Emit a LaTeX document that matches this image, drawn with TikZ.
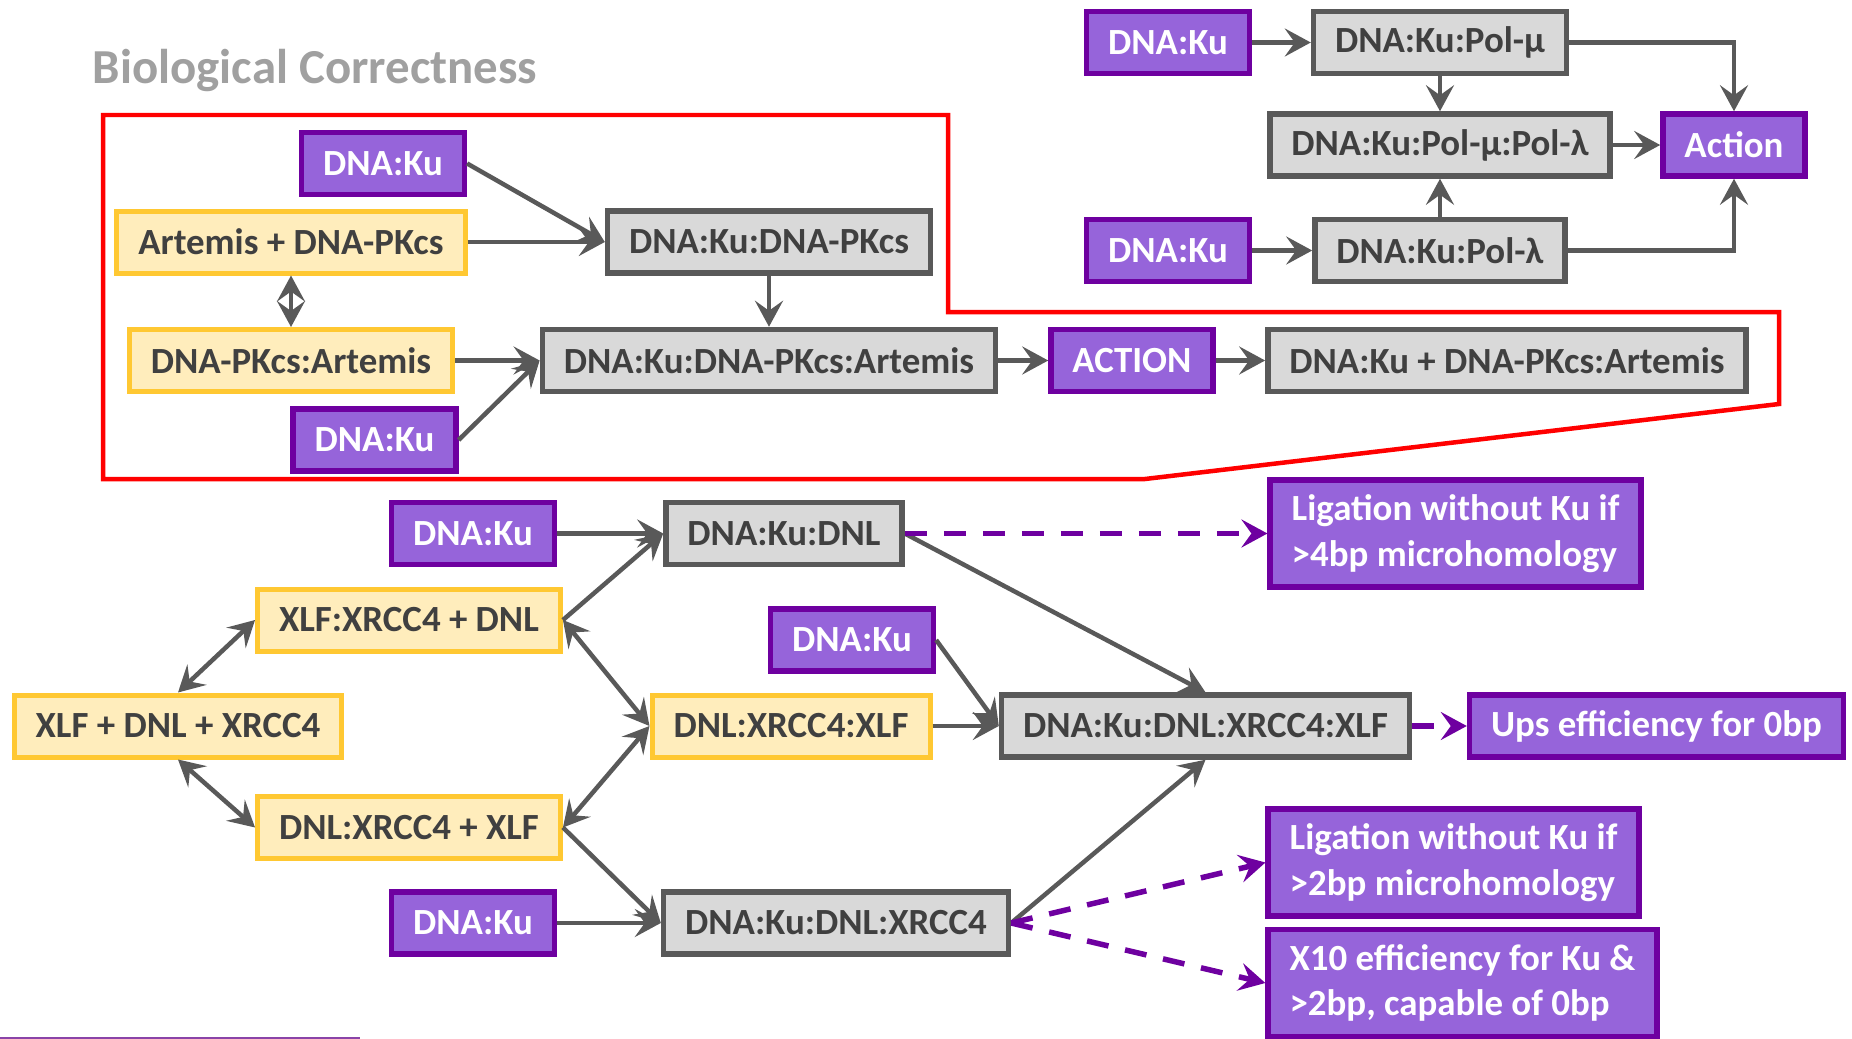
\documentclass[tikz,border=0pt]{standalone}
\usepackage{fontspec}
\setmainfont{Carlito}
\usepackage{tikz}
\usetikzlibrary{arrows.meta}

\definecolor{kufill}{HTML}{9664DA}
\definecolor{kuline}{HTML}{6E00A0}
\definecolor{yelfill}{HTML}{FFEDBC}
\definecolor{yelline}{HTML}{FFC832}
\definecolor{cplxfill}{HTML}{D9D9D9}
\definecolor{cplxline}{HTML}{595959}
\definecolor{txtgrey}{HTML}{404040}
\definecolor{titlegrey}{HTML}{A0A0A0}
\definecolor{footline}{HTML}{8A44A8}

\begin{document}
\begin{tikzpicture}[auto, >={Stealth[length=0.26cm,width=0.28cm,inset=0.1cm]}, font=\fontsize{10.5}{13}\selectfont\bfseries]
\tikzstyle{block} = [draw, rectangle, line width=0.055cm, minimum height=0.62cm, inner xsep=0.215cm, inner ysep=0cm]
\tikzstyle{kublock} = [block, draw=kuline, fill=kufill, text=white]
\tikzstyle{cplxblock} = [block, draw=cplxline, fill=cplxfill, text=txtgrey]
\tikzstyle{freeblock} = [block, draw=yelline, fill=yelfill, text=txtgrey, line width=0.05cm]
\tikzstyle{noteblock} = [kublock, align=left, minimum height=1.07cm]
\tikzstyle{link} = [->, draw=cplxline, line width=0.045cm]
\tikzstyle{duallink} = [<->, draw=cplxline, line width=0.045cm]
\tikzstyle{dashlink} = [->, draw=kuline, line width=0.055cm, dash pattern=on 0.22cm off 0.17cm]

\useasboundingbox (0,0) rectangle (18.52,-10.39);

\node[anchor=base west, inner sep=0, text=titlegrey, font=\fontsize{13.9}{16}\selectfont\bfseries] (title) at (0.92,-0.83) {Biological Correctness};

% Pol-mu / Pol-lambda branch
\node [kublock] (kuA) at (11.68,-0.425) {DNA:Ku};
\node [cplxblock, right of=kuA, node distance=2.72cm] (polmu) {DNA:Ku:Pol-μ};
\node [cplxblock, below of=polmu, node distance=1.025cm] (mulam) {DNA:Ku:Pol-μ:Pol-λ};
\node [kublock, right of=mulam, node distance=2.94cm] (action) {Action};
\node [cplxblock, below of=mulam, node distance=1.055cm] (pollam) {DNA:Ku:Pol-λ};
\node [kublock, left of=pollam, node distance=2.72cm] (kuB) {DNA:Ku};

\draw [link] (kuA) -- (polmu);
\draw [link] (kuB) -- (pollam);
\draw [link] (polmu) -- (mulam);
\draw [link] (pollam) -- (mulam);
\draw [link] (mulam) -- (action);
\draw [link] (polmu) -| (action);
\draw [link] (pollam) -| (action);

% Artemis branch (the red frame)
\node [cplxblock] (kupk) at (7.69,-2.42) {DNA:Ku:DNA-PKcs};
\node [kublock] (kuC) at (3.83,-1.635) {DNA:Ku};
\node [freeblock, left of=kupk, node distance=4.78cm] (artpk) {Artemis + DNA-PKcs};
\node [freeblock, below of=artpk, node distance=1.185cm] (pkart) {DNA-PKcs:Artemis};
\node [cplxblock, below of=kupk, node distance=1.185cm] (kupkart) {DNA:Ku:DNA-PKcs:Artemis};
\node [kublock] (kuD) at (3.745,-4.40) {DNA:Ku};
\node [kublock, right of=kupkart, node distance=3.63cm] (action2) {ACTION};
\node [cplxblock, right of=action2, node distance=3.75cm] (kuplus) {DNA:Ku + DNA-PKcs:Artemis};

\draw [link] (kuC.east) -- (kupk.west);
\draw [link] (artpk) -- (kupk);
\draw [duallink] (artpk) -- (pkart);
\draw [link] (kupk) -- (kupkart);
\draw [link] (pkart) -- (kupkart);
\draw [link] (kuD.east) -- (kupkart.west);
\draw [link] (kupkart) -- (action2);
\draw [link] (action2) -- (kuplus);

\draw [red, line width=0.045cm] (1.03,-1.15) -- (9.48,-1.15) -- (9.48,-3.12) -- (17.79,-3.12)
  -- (17.79,-4.04) -- (11.45,-4.79) -- (1.03,-4.79) -- cycle;

% DNL / XRCC4 / XLF branch
\node [cplxblock] (kudnl) at (7.84,-5.335) {DNA:Ku:DNL};
\node [kublock, left of=kudnl, node distance=3.11cm] (kuE) {DNA:Ku};
\node [noteblock] (lig4) at (14.555,-5.335) {Ligation without Ku if\\>4bp microhomology};
\node [freeblock] (xlfdnl) at (4.09,-6.20) {XLF:XRCC4 + DNL};
\node [kublock] (kuF) at (8.52,-6.40) {DNA:Ku};
\node [freeblock] (xlfall) at (1.78,-7.26) {XLF + DNL + XRCC4};
\node [freeblock] (dnlxlf) at (7.91,-7.26) {DNL:XRCC4:XLF};
\node [cplxblock] (kuxlf) at (12.055,-7.26) {DNA:Ku:DNL:XRCC4:XLF};
\node [kublock] (ups) at (16.565,-7.26) {Ups efficiency for 0bp};
\node [freeblock] (dnlx4) at (4.09,-8.275) {DNL:XRCC4 + XLF};
\node [noteblock] (lig2) at (14.535,-8.625) {Ligation without Ku if\\>2bp microhomology};
\node [kublock] (kuG) at (4.73,-9.23) {DNA:Ku};
\node [cplxblock] (kux4) at (8.36,-9.23) {DNA:Ku:DNL:XRCC4};
\node [noteblock] (x10) at (14.625,-9.83) {X10 efficiency for Ku \&\\>2bp, capable of 0bp};

\draw [link] (kuE) -- (kudnl);
\draw [link] (xlfdnl.east) -- (kudnl.west);
\draw [duallink] (xlfall.north) -- (xlfdnl.west);
\draw [duallink] (xlfall.south) -- (dnlx4.west);
\draw [duallink] (xlfdnl.east) -- (dnlxlf.west);
\draw [duallink] (dnlx4.east) -- (dnlxlf.west);
\draw [link] (dnlx4.east) -- (kux4.west);
\draw [link] (kuG) -- (kux4);
\draw [link] (kudnl.east) -- (kuxlf.north);
\draw [link] (kuF.east) -- (kuxlf.west);
\draw [link] (dnlxlf) -- (kuxlf);
\draw [link] (kux4.east) -- (kuxlf.south);
\draw [dashlink] (kudnl) -- (lig4);
\draw [dashlink] (kuxlf) -- (ups);
\draw [dashlink] (kux4.east) -- (lig2.west);
\draw [dashlink] (kux4.east) -- (x10.west);

\draw [footline, line width=0.02cm] (0,-10.38) -- (3.6,-10.38);

\end{tikzpicture}
\end{document}
